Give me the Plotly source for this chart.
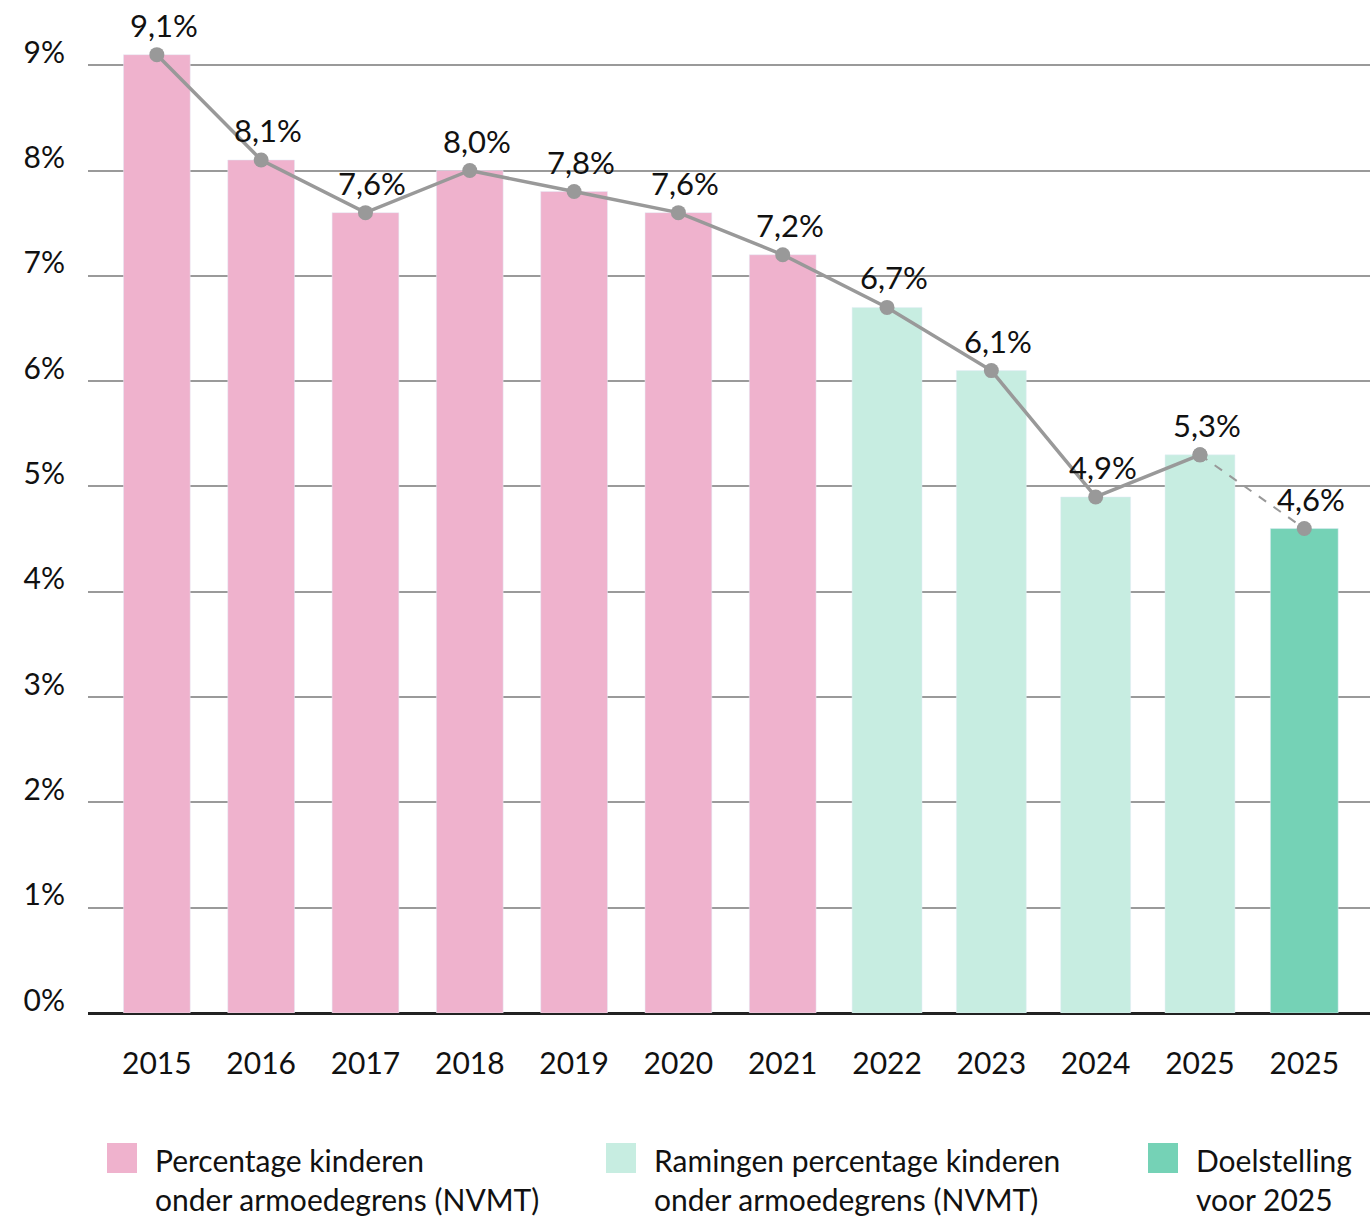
import plotly.graph_objects as go

years = ["2015", "2016", "2017", "2018", "2019", "2020", "2021", "2022", "2023", "2024", "2025", "2025"]
measured = [9.1, 8.1, 7.6, 8.0, 7.8, 7.6, 7.2]
estimates = [6.7, 6.1, 4.9, 5.3]
target = [4.6]
line_values = measured + estimates + target
y_ticks = [0, 1, 2, 3, 4, 5, 6, 7, 8, 9]
y_ticktext = [f"{v}%" for v in y_ticks]
series_names = [
    "Percentage kinderen<br>onder armoedegrens (NVMT)",
    "Ramingen percentage kinderen<br>onder armoedegrens (NVMT)",
    "Doelstelling<br>voor 2025",
]
colors = ["#EFB2CD", "#C7EDE1", "#75D2B6"]

FONT = "Lato"
idx = list(range(len(years)))
n_m = len(measured)
n_e = len(estimates)
x_m = idx[:n_m]
x_e = idx[n_m:n_m + n_e]
x_t = idx[n_m + n_e:]

fig = go.Figure()
fig.add_trace(go.Bar(x=x_m, y=measured, marker_color=colors[0], width=0.64, name=series_names[0]))
fig.add_trace(go.Bar(x=x_e, y=estimates, marker_color=colors[1], width=0.67, name=series_names[1]))
fig.add_trace(go.Bar(x=x_t, y=target, marker_color=colors[2], width=0.65, name=series_names[2]))

solid_n = n_m + n_e
fig.add_trace(go.Scatter(x=idx[:solid_n], y=line_values[:solid_n], mode="lines+markers",
                         line=dict(color="#999999", width=3.5),
                         marker=dict(color="#999999", size=15), cliponaxis=False))
fig.add_trace(go.Scatter(x=idx[solid_n - 1:], y=line_values[solid_n - 1:], mode="lines+markers",
                         line=dict(color="#999999", width=2, dash="dash"),
                         marker=dict(color="#999999", size=15), cliponaxis=False))

for i, v in zip(idx, line_values):
    fig.add_annotation(x=i, y=v, text=f"{v:.1f}%".replace(".", ","), showarrow=False,
                       xshift=7, yshift=30, font=dict(family=FONT, size=31, color="#111111"))

# legend (manual, to reproduce large square swatches)
leg_x = [107, 606, 1148]
H = 1218
W = 1370
for k, name in enumerate(series_names):
    x0 = leg_x[k]
    fig.add_shape(type="rect", xref="paper", yref="paper",
                  x0=(x0 - 88) / (W - 88), x1=(x0 + 30 - 88) / (W - 88),
                  y0=-(1173 - 1013) / (1013 - 2), y1=-(1143 - 1013) / (1013 - 2),
                  fillcolor=colors[k], line=dict(width=0))
    fig.add_annotation(xref="paper", yref="paper", x=(x0 + 46 - 88) / (W - 88),
                       y=-(1140 - 1013) / (1013 - 2), xanchor="left", yanchor="top",
                       align="left", showarrow=False, text=name,
                       font=dict(family=FONT, size=30, color="#111111"))

fig.update_layout(
    width=W, height=H,
    margin=dict(l=88, r=0, t=2, b=205),
    plot_bgcolor="white", paper_bgcolor="white",
    showlegend=False, barmode="overlay",
    font=dict(family=FONT, size=30, color="#111111"),
    xaxis=dict(range=[-0.66, 11.63], tickvals=idx, ticktext=years, showgrid=False,
               zeroline=False, showline=False, ticks="", ticklabelstandoff=30,
               tickfont=dict(family=FONT, size=30)),
    yaxis=dict(range=[0, 9.6], tickvals=y_ticks, ticktext=y_ticktext,
               showgrid=True, gridcolor="#9a9a9a", gridwidth=2,
               zeroline=True, zerolinecolor="#222222", zerolinewidth=3,
               showline=False, ticks="", ticklabelstandoff=22, ticklabelshift=-13,
               tickfont=dict(family=FONT, size=30)),
)

fig.write_html("out.html", config={"displayModeBar": False},
               post_script="document.body.style.margin='0';document.body.style.overflow='hidden';")
